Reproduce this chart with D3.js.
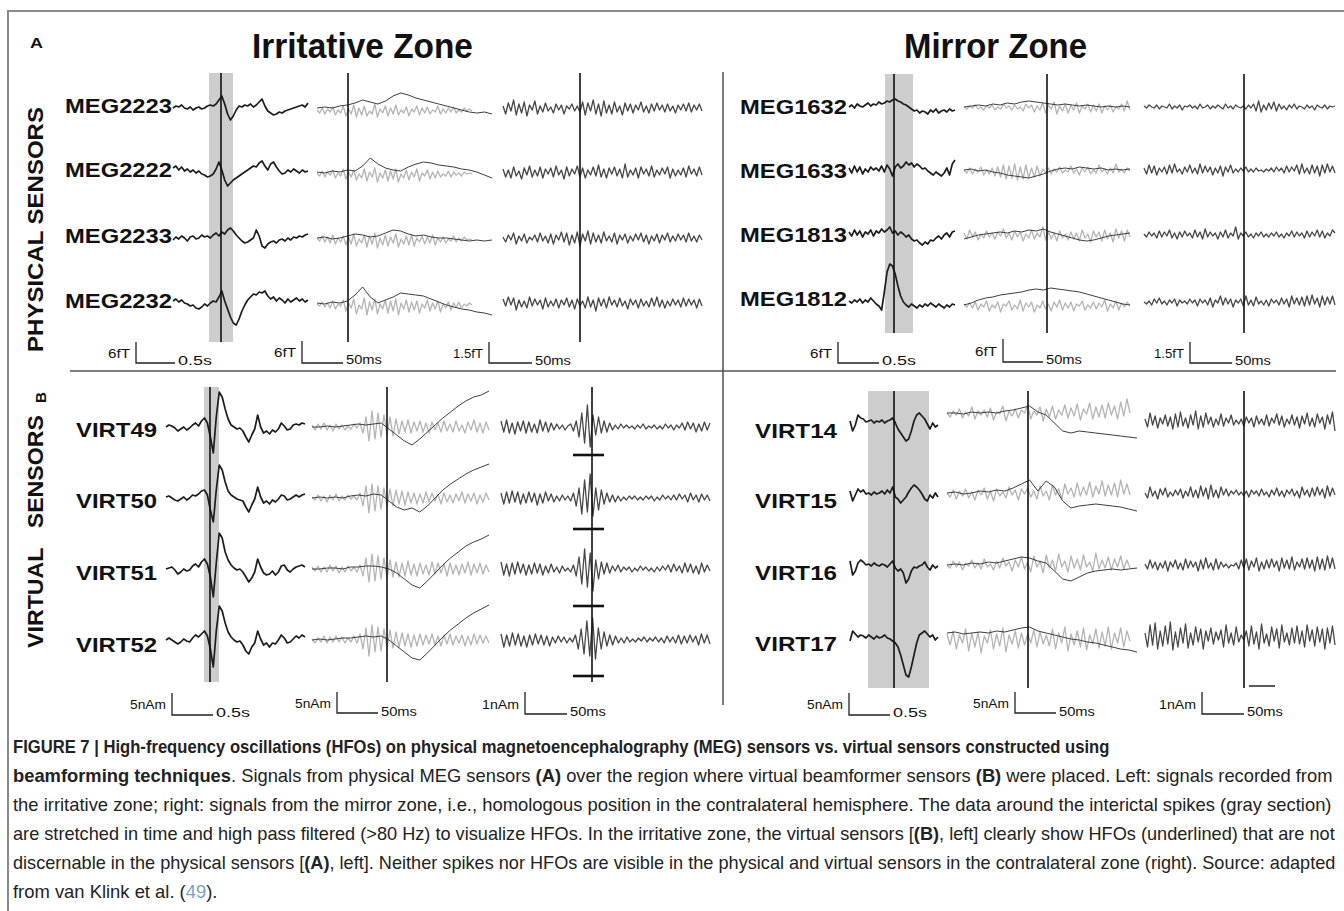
<!DOCTYPE html>
<html>
<head>
<meta charset="utf-8">
<script src="https://cdn.jsdelivr.net/npm/d3@7"></script>
<style>
  body { margin: 0; background: #fff; }
  svg { display: block; font-family: "Liberation Sans", Arial, sans-serif; }
</style>
</head>
<body>
<svg id="fig" width="1344" height="911"></svg>
<script>
// ---- sensor names ----
const sensorsPhysIrr = ['MEG2223', 'MEG2222', 'MEG2233', 'MEG2232'];
const sensorsPhysMir = ['MEG1632', 'MEG1633', 'MEG1813', 'MEG1812'];
const sensorsVirtIrr = ['VIRT49', 'VIRT50', 'VIRT51', 'VIRT52'];
const sensorsVirtMir = ['VIRT14', 'VIRT15', 'VIRT16', 'VIRT17'];

// ---- scale bar labels ----
const scaleAmpPhys = ['6fT', '6fT', '1.5fT'];
const scaleAmpVirt = ['5nAm', '5nAm', '1nAm'];
const scaleTime = ['0.5s', '50ms', '50ms'];

// ---- physical sensors, irritative zone (px units, up = +) ----
const physIrrRaw = [
  [0,2,1,3,0,-1,1,-2,0,1,-1,0,2,3,2,4,8,12,4,-6,-12,-8,-2,2,1,3,2,4,1,3,6,9,2,-3,-5,-7,-6,-4,-5,-3,-2,-1,0,1,2,3,1,5],
  [4,6,2,5,1,3,0,2,-1,1,-2,-3,-5,-4,-2,3,10,2,-8,-14,-11,-8,-6,-4,-2,0,2,4,6,5,9,11,6,2,8,10,5,1,-2,-1,2,0,3,1,-1,2,0,1],
  [-2,1,-1,2,0,-3,1,2,-1,0,3,1,2,0,3,5,2,6,4,8,10,7,3,0,-3,-5,-4,-2,0,8,2,-8,-10,-6,-4,-3,-5,-2,-1,-3,0,-2,1,0,2,1,3,4],
  [2,4,1,3,0,-1,-3,-2,-5,-6,-4,-1,-3,0,2,1,6,12,2,-6,-14,-20,-22,-16,-8,-2,3,6,9,8,11,10,12,7,4,6,2,5,3,0,4,1,3,5,2,4,1,3]
];
const physIrrSlow = [
  [0,1,0,2,3,5,8,6,4,7,12,15,13,10,8,6,4,2,0,-2,-4,-5,-4,-6],
  [0,-1,1,0,2,1,6,14,8,4,2,1,5,8,10,9,7,6,5,3,2,0,-3,-6],
  [0,1,-1,0,2,4,3,1,2,5,8,7,4,2,3,1,0,0,-1,-2,-3,-2,-3,-2],
  [0,-1,1,0,2,8,16,6,0,3,6,10,9,8,7,4,1,-2,-4,-6,-7,-9,-10,-12]
];
const physIrrHf = [
  [-2,-5,0,-6,-1,-4,1,-7,-2,-5,2,-8,-1,-6,3,-9,0,-7,2,-8,-3,-6,4,-9,-1,-5,2,-8,0,-6,3,-7,-2,-5,1,-8,-1,-4,2,-7,0,-5,1,-6,-2,-4,2,-6,-1,-5,0,-4,1,-5,-2,-4,0,-3,-1,-3],
  [-1,-4,1,-5,0,-3,2,-6,-1,-4,3,-7,0,-5,2,-8,-2,-6,3,-9,0,-5,4,-10,-1,-6,2,-9,1,-7,3,-10,-2,-6,2,-8,0,-5,3,-9,-1,-4,2,-7,0,-6,1,-5,-2,-4,1,-5,0,-3,-1,-4,0,-2,-1,-2],
  [0,-3,2,-4,1,-5,3,-6,0,-4,2,-7,1,-6,4,-8,-1,-5,3,-9,2,-6,5,-10,0,-7,3,-8,1,-5,4,-9,-1,-6,2,-7,3,-8,0,-4,2,-6,1,-5,3,-7,0,-4,1,-5,-1,-3,2,-4,0,-3,1,-2,-1,-2],
  [-1,-3,1,-4,0,-5,2,-6,-1,-3,3,-8,0,-5,4,-11,-2,-6,5,-12,1,-7,4,-11,-1,-6,3,-10,2,-8,4,-12,0,-6,3,-9,1,-7,2,-10,-1,-5,3,-8,0,-6,2,-9,-1,-5,1,-7,0,-4,1,-5,-1,-3,0,-2]
];
const physIrrFilt = [
  [2,-6,5,-3,8,-7,4,-5,6,-8,3,-2,7,-6,2,-4,5,-3,1,-5,4,-2,3,-6,2,-1,4,-3,2,-4,6,-7,5,-3,8,-6,4,-8,7,-5,3,-6,6,-4,2,-7,5,-3,4,-5,3,-2,6,-4,2,-5,4,-3,5,-2,3,-4,4,-3,2,-5,3,-2,4,-3,5,-4,3,-2,4,-3],
  [3,-5,2,-6,5,-4,1,-7,4,-3,6,-5,2,-4,5,-6,3,-2,4,-5,6,-3,2,-7,5,-4,3,-2,6,-5,4,-6,2,-3,5,-4,7,-5,3,-6,4,-2,5,-4,3,-6,8,-5,2,-3,4,-6,5,-2,3,-4,6,-5,2,-3,4,-2,5,-6,3,-4,2,-3,4,-5,6,-2,3,-4,5,-3],
  [1,-4,3,-2,5,-6,2,-3,4,-5,1,-2,3,-4,5,-3,2,-5,4,-6,3,-2,6,-4,5,-7,3,-5,6,-8,4,-3,7,-6,5,-4,3,-5,6,-3,2,-4,5,-6,3,-2,4,-5,2,-3,4,-2,5,-4,3,-6,2,-3,4,-5,3,-2,5,-4,2,-3,4,-2,3,-4,5,-3,2,-4,3,-2],
  [4,-3,6,-2,5,-7,3,-4,2,-5,6,-3,4,-2,3,-6,5,-4,2,-3,4,-5,3,-2,5,-4,3,-6,4,-3,2,-5,6,-4,3,-8,5,-3,4,-5,6,-2,3,-4,5,-3,2,-6,4,-2,3,-5,4,-3,2,-4,5,-3,6,-4,3,-5,2,-3,4,-2,3,-4,5,-3,4,-2,3,-5,4,-3]
];

// ---- physical sensors, mirror zone ----
const physMirRaw = [
  [0,2,-1,3,1,0,2,4,1,3,2,5,3,4,6,5,7,8,6,5,3,2,0,-2,-4,-3,-6,-4,-5,-7,-3,-5,-2,-6,-4,-3,-5,-2,-4,-3],
  [2,-3,4,-2,3,-4,1,-2,3,0,2,-1,4,-2,5,1,-6,3,6,2,4,8,5,7,3,6,4,1,2,-1,-3,-5,-2,-4,-6,-3,2,-5,6,10],
  [3,-1,5,0,4,-2,3,1,5,-1,4,2,6,3,5,8,2,4,0,3,1,-2,0,-4,-6,-5,-8,-10,-7,-9,-5,-6,-3,-1,-4,0,2,-2,3,4],
  [1,-1,2,0,3,-1,2,0,4,1,-2,-4,-8,10,30,38,36,28,16,6,0,-3,-5,-2,-4,-6,-3,-5,-2,-4,-1,-3,-5,-2,-4,-6,-3,-5,-2,-3]
];
const physMirSlow = [
  [0,1,2,1,3,2,4,3,5,6,5,4,3,2,3,2,1,2,1,0,1,0,1,0],
  [0,1,-1,0,-2,-3,-5,-6,-7,-8,-6,-4,-1,1,2,1,3,2,1,2,0,1,0,1],
  [-4,-2,0,1,2,3,2,4,3,5,4,6,3,1,-1,-3,-5,-6,-5,-3,-1,0,1,2],
  [-3,-1,2,4,5,7,8,9,10,12,13,12,14,13,12,11,10,8,6,4,2,0,-2,-3]
];
const physMirHf = [
  [0,-2,1,-1,2,-2,0,-3,1,-1,2,-3,0,-2,3,-1,1,-3,2,-2,0,-4,3,-1,2,-5,1,-3,4,-6,2,-2,5,-7,1,-4,3,-6,2,-3,4,-6,1,-2,3,-5,2,-4,3,-6,1,-3,2,-5,0,-2,3,-4,6,-3],
  [0,-3,2,-4,1,-2,3,-5,0,-4,2,-6,3,-7,5,-9,4,-8,6,-10,3,-9,5,-8,2,-7,4,-6,1,-3,2,-4,1,-2,3,-3,0,-2,4,-3,1,-5,2,-2,3,-4,0,-3,5,-2,1,-4,2,-3,6,-2,1,-3,2,-1],
  [2,-4,5,-2,3,-5,1,-3,4,-2,2,-4,3,-1,6,-3,2,-5,4,-2,3,-6,1,-3,5,-4,2,-2,8,-5,3,-4,2,-6,4,-3,1,-5,3,-4,2,-6,5,-3,1,-7,4,-2,3,-6,5,-4,2,-7,6,-3,4,-6,5,-2],
  [-2,-5,-1,-6,0,-8,-2,-5,1,-9,-3,-6,0,-10,-2,-4,1,-8,-3,-7,2,-9,-1,-5,0,-10,-3,-6,1,-7,-2,-9,0,-5,2,-8,-1,-6,0,-9,-2,-4,1,-8,-3,-6,0,-7,-1,-5,2,-9,-2,-6,1,-8,-1,-5,0,-4]
];
const physMirFilt = [
  [1,-1,2,0,-1,2,-2,1,0,-1,3,-2,1,-1,2,-3,1,0,2,-1,1,-2,3,-1,0,2,-2,1,-1,2,0,-2,3,-1,1,-2,2,0,-1,1,-2,2,-1,3,-4,6,-5,2,-3,4,-2,5,-4,3,-2,1,-3,2,-1,3,-2,1,0,-2,2,-1,1,-3,2,0,-1,2,-2,1,0,1],
  [2,-4,5,-3,4,-5,2,-2,3,-4,5,-3,6,-2,1,-4,3,-2,5,-3,2,-4,6,-3,4,-2,3,-5,2,-3,4,-6,3,-2,5,-3,1,-2,2,-1,3,-2,1,-2,2,-1,0,-2,1,-1,2,-2,3,-1,2,-3,4,-2,3,-1,5,-4,6,-3,2,-4,5,-3,4,-6,5,-3,6,-2,4,-3],
  [1,-2,3,-1,2,-3,4,-2,3,-1,5,-3,2,-4,3,-2,4,-1,2,-3,5,-2,3,-4,6,-2,3,-1,2,-4,3,-2,5,-3,2,-1,8,-4,2,-1,3,-2,1,-3,2,-1,3,-2,1,-2,2,-1,3,-2,1,-3,2,-1,4,-2,3,-1,2,-3,4,-2,3,-1,5,-2,4,-3,2,-1,5,2],
  [0,-2,1,-3,3,-1,4,-2,1,-3,2,-1,3,-4,2,-1,1,-2,3,-1,2,-4,3,-1,2,-3,4,-5,2,-1,6,-3,4,-2,3,-5,2,-1,3,-4,6,-3,2,-4,5,-2,1,-3,2,-4,3,-1,2,-3,4,-2,3,-5,6,-2,4,-3,5,-4,6,-3,7,-2,4,-5,6,-3,5,-2,6,-3]
];

// ---- virtual sensors, irritative zone ----
const virtIrrRaw = [
  [0,2,1,-1,-4,-2,0,-3,-1,2,4,1,6,9,4,-10,-26,10,35,30,18,8,2,0,-2,-1,-4,-10,-15,-8,-2,12,0,-6,-4,-7,-3,-5,-2,4,1,-3,-2,2,3,2,4,3],
  [1,2,0,-2,-3,-1,1,-2,0,3,2,4,7,8,3,-12,-24,8,33,28,16,7,3,1,-1,-2,-3,-9,-14,-7,-1,11,1,-5,-3,-6,-2,-4,-1,3,2,-2,-1,1,3,1,3,4],
  [0,1,2,-1,-5,-3,0,-2,-1,3,5,2,7,10,5,-8,-28,6,36,31,17,9,4,1,-1,0,-3,-8,-13,-9,-3,10,2,-4,-6,-5,-2,-6,-3,3,4,-1,-3,0,2,3,4,2],
  [0,2,0,-2,-4,-2,1,-1,-2,2,5,3,6,9,4,-9,-27,9,34,29,17,8,3,0,-2,-1,-5,-11,-14,-7,-3,9,1,-5,-3,-7,-3,-4,0,5,2,-3,-2,1,4,2,5,3]
];
const virtIrrSlow = [
  [0,0,1,0,1,2,3,2,3,4,-2,-8,-14,-18,-12,-5,2,9,15,21,26,30,32,36],
  [0,1,0,1,0,2,3,2,4,3,-3,-9,-12,-10,-14,-8,0,8,14,19,24,28,31,34],
  [0,0,1,1,0,2,2,3,3,2,0,-4,-10,-16,-19,-12,-4,4,11,17,23,27,30,34],
  [0,1,0,1,2,2,3,4,3,4,0,-6,-12,-18,-20,-13,-5,3,10,16,22,27,31,35]
];
const virtIrrHf = [
  [2,-3,3,-2,4,-3,2,-4,3,-2,2,-3,1,-2,3,-1,4,-6,10,-14,16,-12,14,-10,12,-8,10,-9,8,-7,6,-5,7,-6,5,-4,6,-5,4,-6,5,-3,4,-5,6,-4,3,-5,6,-4,2,-6,5,-3,7,-5,4,-6,5,-3],
  [1,-2,3,-3,2,-4,3,-2,4,-3,2,-2,3,-1,2,-2,5,-8,12,-15,14,-13,12,-11,10,-9,9,-8,8,-6,7,-7,6,-5,5,-6,4,-5,6,-4,5,-3,4,-6,5,-4,3,-5,4,-3,6,-5,4,-3,5,-6,3,-4,5,-2],
  [2,-2,3,-3,2,-3,4,-2,3,-4,2,-3,3,-2,2,-3,4,-7,11,-13,15,-12,13,-10,11,-9,9,-8,7,-8,6,-7,8,-6,5,-7,6,-5,4,-6,7,-5,6,-4,5,-7,6,-5,4,-6,5,-4,7,-6,5,-4,6,-5,4,-3],
  [1,-3,2,-2,4,-3,3,-2,4,-2,3,-3,2,-2,4,-3,6,-9,12,-16,15,-12,13,-11,11,-9,10,-8,8,-7,7,-6,6,-7,5,-6,6,-5,5,-4,6,-5,4,-6,5,-4,6,-5,4,-3,5,-6,4,-5,6,-4,5,-3,4,-3]
];
const virtIrrFilt = [
  [6,-5,7,-6,4,-7,5,-4,6,-6,5,-5,3,-6,7,-4,5,-5,4,-3,3,-2,2,-3,1,3,-4,6,-10,14,-16,22,-20,12,-8,10,-6,6,-5,4,-3,2,-2,3,-1,2,-1,1,-2,2,-1,3,-2,1,-1,2,-2,1,-2,3,-1,2,-3,2,-1,4,-3,5,-2,4,-5,3,-4,5,-3,4],
  [5,-6,6,-5,7,-4,6,-6,4,-5,6,-4,5,-7,4,-5,6,-3,4,-4,2,-3,3,-2,2,-3,5,-8,10,-16,18,-14,24,-18,10,-12,8,-6,5,-4,3,-4,2,-3,1,-2,2,-1,2,-2,1,-2,2,-1,2,-3,1,-2,3,-1,2,-2,3,-2,4,-1,3,-4,5,-2,3,-4,4,-2,3,-3],
  [7,-6,5,-7,6,-5,7,-4,5,-6,4,-5,6,-4,5,-6,3,-4,5,-3,2,-4,3,-2,1,-3,4,-7,12,-15,20,-18,16,-22,9,-10,7,-5,6,-4,3,-2,4,-3,2,-1,2,-3,1,-2,3,-1,2,-2,1,-3,2,-2,3,-1,4,-3,5,-2,3,-4,6,-3,5,-4,3,-5,6,-3,4,-2],
  [6,-7,5,-6,7,-5,6,-6,4,-7,5,-5,6,-4,5,-5,4,-6,3,-3,4,-2,3,-3,2,-2,5,-9,11,-14,19,-16,22,-19,12,-9,8,-6,5,-5,4,-3,2,-3,3,-2,1,-2,2,-1,3,-2,2,-1,3,-2,2,-3,4,-2,3,-3,5,-4,4,-3,5,-2,4,-5,6,-3,5,-4]
];

// ---- virtual sensors, mirror zone ----
const virtMirRaw = [
  [0,-10,-4,6,3,2,-1,0,1,-2,0,-1,1,-2,0,1,3,-2,-8,-12,-16,-20,-18,-10,0,6,8,5,2,-3,-8,-2,-6,-4],
  [2,-8,-2,4,1,3,-1,0,-2,1,-1,0,2,-1,3,0,6,-4,-6,-10,-7,-4,1,5,8,6,3,-1,-6,-8,-2,-5,0,-4],
  [4,-10,-6,2,5,3,0,1,-1,2,0,-1,1,0,-2,1,4,-3,-6,-4,-8,-18,-14,-6,-2,-3,-1,0,3,-2,-5,0,-3,-1],
  [-4,6,3,0,2,1,-1,2,0,-2,1,-1,0,2,-1,-2,-4,-6,-10,-18,-28,-38,-40,-30,-18,-6,2,4,6,3,0,2,-3,0]
];
const virtMirSlow = [
  [8,8,7,9,8,9,8,10,11,13,15,9,6,-2,-10,-12,-10,-11,-12,-13,-14,-15,-16,-17],
  [0,1,-1,0,2,1,3,2,5,9,13,2,12,6,-8,-15,-13,-12,-11,-12,-13,-14,-16,-18],
  [0,1,0,2,1,3,2,4,6,8,7,4,2,-6,-14,-16,-12,-8,-6,-5,-4,-5,-4,-3],
  [4,5,3,4,5,4,6,5,7,9,10,6,4,2,0,-2,-3,-5,-6,-8,-10,-12,-13,-15]
];
const virtMirHf = [
  [8,4,10,6,12,3,9,5,14,2,10,6,11,4,13,1,9,7,15,0,10,5,12,3,11,8,16,2,10,6,14,0,12,4,15,2,11,6,16,3,13,5,17,1,12,7,18,2,14,4,16,3,18,6,15,2,19,5,22,8],
  [0,-4,3,-6,2,-3,4,-5,1,-7,3,-2,5,-6,2,-8,4,-3,1,-5,6,-2,3,-7,4,-1,5,-4,2,-6,7,-3,2,-7,8,-2,4,-6,9,-1,5,-4,10,-3,6,-2,11,-4,7,-1,12,-3,8,-2,10,-4,13,-1,9,-2],
  [0,-3,4,-2,3,-5,2,-1,5,-3,2,-4,6,-2,1,-5,4,-3,7,-1,3,-6,5,-2,8,-4,3,-7,9,-2,4,-8,10,-3,5,-6,11,-2,4,-7,9,-3,6,-5,10,-2,3,-6,12,-4,5,-3,8,-5,6,-2,9,-4,5,-3],
  [3,-8,6,-12,2,-6,8,-14,4,-10,5,-16,1,-6,7,-12,3,-9,9,-15,2,-7,6,-11,4,-8,3,-6,7,-10,5,-7,2,-9,8,-12,4,-6,10,-14,3,-8,6,-10,9,-13,2,-7,8,-11,5,-9,10,-12,4,-6,9,-10,6,-4]
];
const virtMirFilt = [
  [2,-6,8,-4,5,-7,3,-3,6,-5,4,-8,7,-6,9,-5,3,-7,6,-4,10,-8,5,-6,8,-3,4,-6,2,-4,7,-5,3,-2,6,-4,1,-3,2,-5,4,-2,3,-6,5,-3,2,-4,6,-5,3,-2,7,-4,5,-6,2,-3,6,-4,4,-7,5,-3,8,-5,3,-6,7,-2,4,-8,6,-3,9,-10],
  [0,-5,6,-3,2,-6,4,-2,5,-4,1,-3,3,-2,4,-5,2,-3,6,-4,3,-5,7,-3,5,-6,8,-4,3,-5,6,-2,4,-3,2,-1,3,-2,1,-3,2,-4,3,-1,2,-3,4,-2,1,-4,3,-2,5,-3,2,-4,3,-1,4,-3,2,-5,6,-2,3,-4,5,-3,6,-2,4,-5,7,-3,5,-2],
  [1,-4,5,-3,3,-5,2,-3,4,-6,3,-2,5,-4,2,-5,6,-3,4,-2,3,-6,5,-4,7,-3,2,-5,6,-4,3,-2,1,-3,0,-1,2,-4,5,-3,6,-5,4,-2,7,-6,3,-4,5,-3,6,-2,4,-6,7,-3,5,-4,8,-5,3,-2,6,-4,7,-3,5,-6,8,-4,6,-5,9,-3,7,-4],
  [4,-10,12,-8,14,-12,6,-9,11,-7,15,-13,5,-10,9,-6,13,-11,4,-8,10,-5,8,-12,6,-4,9,-7,5,-3,7,-10,12,-6,4,-8,10,-5,2,-3,6,-9,11,-7,5,-12,13,-6,3,-9,10,-4,8,-11,12,-5,4,-8,9,-6,11,-7,6,-10,12,-4,7,-9,10,-5,8,-12,9,-6,11,-8]
];

// ---- caption ----
const captionLines = [
  [['FIGURE 7 | High-frequency oscillations (HFOs) on physical magnetoencephalography (MEG) sensors vs. virtual sensors constructed using', 'b']],
  [['beamforming techniques', 'b'], ['. Signals from physical MEG sensors '], ['(A)', 'b'], [' over the region where virtual beamformer sensors '], ['(B)', 'b'], [' were placed. Left: signals recorded from']],
  [['the irritative zone; right: signals from the mirror zone, i.e., homologous position in the contralateral hemisphere. The data around the interictal spikes (gray section)']],
  [['are stretched in time and high pass filtered (>80 Hz) to visualize HFOs. In the irritative zone, the virtual sensors ['], ['(B)', 'b'], [', left] clearly show HFOs (underlined) that are not']],
  [['discernable in the physical sensors ['], ['(A)', 'b'], [', left]. Neither spikes nor HFOs are visible in the physical and virtual sensors in the contralateral zone (right). Source: adapted']],
  [['from van Klink et al. ('], ['49', 'l'], [').']]
];

const svg = d3.select('#fig');

// text helper: draws a string and stretches it to a measured width
function fitText(parent, str, x, y, width, size, weight, anchor, rotate) {
  const t = parent.append('text')
    .attr('font-size', size)
    .attr('font-weight', weight)
    .attr('text-anchor', anchor)
    .attr('fill', '#111')
    .text(str);
  const w = t.node().getComputedTextLength();
  const k = width ? width / w : 1;
  t.attr('transform', `translate(${x},${y})${rotate ? ' rotate(-90)' : ''} scale(${k},1)`);
  return t;
}

// one trace through its own scales
function drawTrace(g, values, x0, x1, cy, color, width) {
  const x = d3.scaleLinear().domain([0, values.length - 1]).range([x0, x1]);
  const y = d3.scaleLinear().domain([-1, 1]).range([cy + 1, cy - 1]);
  g.append('path')
    .datum(values)
    .attr('d', d3.line().x((d, i) => x(i)).y(d => y(d)))
    .attr('fill', 'none')
    .attr('stroke', color)
    .attr('stroke-width', width)
    .attr('stroke-linejoin', 'round');
}

// frame + dividers
svg.append('path').attr('d', 'M8,911 V11 H1344')
  .attr('fill', 'none').attr('stroke', '#8a8a8a').attr('stroke-width', 2);
svg.append('line').attr('x1', 70).attr('x2', 1336).attr('y1', 371).attr('y2', 371)
  .attr('stroke', '#555').attr('stroke-width', 1.6);
svg.append('line').attr('x1', 723).attr('x2', 723).attr('y1', 72).attr('y2', 705)
  .attr('stroke', '#444').attr('stroke-width', 1.4);

// titles and side labels
fitText(svg, 'A', 30, 48, 13, 15, 'bold', 'start');
fitText(svg, 'Irritative Zone', 362.5, 58, 221, 35, 'bold', 'middle');
fitText(svg, 'Mirror Zone', 995.5, 58, 183, 35, 'bold', 'middle');
fitText(svg, 'PHYSICAL SENSORS', 43, 229.5, 245, 22, 'bold', 'middle', true);
fitText(svg, 'VIRTUAL\u00a0\u00a0\u00a0SENSORS', 43, 531.5, 233, 22, 'bold', 'middle', true);
fitText(svg, 'B', 46, 403, 11, 15, 'bold', 'start', true);

const ampWidth = { '6fT': 22, '1.5fT': 30, '5nAm': 36, '1nAm': 37 };
const timeWidth = { '0.5s': 34, '50ms': 36 };

const panels = [
  { names: sensorsPhysIrr, raw: physIrrRaw, slow: physIrrSlow, hf: physIrrHf, filt: physIrrFilt,
    rowY: [108, 172, 238, 303], labelY: [113, 177, 243, 308], labelRight: 172, labelW: 107, labelSize: 20,
    c1: [173, 308], c2: [317, 492], hfEnd: 472, c3: [503, 702],
    band: [209, 233], top: 73, bottom: 342, marks: [221, 348, 580],
    amp: scaleAmpPhys,
    bars: [{ x: 136, y0: 342, y1: 363, len: 39, ab: 358, tb: 365 },
           { x: 302, y0: 341, y1: 363, len: 41, ab: 357, tb: 364 },
           { x: 489, y0: 342, y1: 363, len: 43, ab: 358, tb: 365 }] },
  { names: sensorsPhysMir, raw: physMirRaw, slow: physMirSlow, hf: physMirHf, filt: physMirFilt,
    rowY: [107, 170, 235, 302], labelY: [114, 178, 242, 306], labelRight: 847, labelW: 107, labelSize: 20,
    c1: [849, 955], c2: [964, 1130], hfEnd: 1130, c3: [1144, 1335],
    band: [885, 913], top: 74, bottom: 333, marks: [894, 1047, 1244],
    amp: scaleAmpPhys,
    bars: [{ x: 838, y0: 342, y1: 363, len: 41, ab: 358, tb: 365 },
           { x: 1003, y0: 339, y1: 362, len: 40, ab: 356, tb: 364 },
           { x: 1190, y0: 342, y1: 363, len: 42, ab: 358, tb: 365 }] },
  { names: sensorsVirtIrr, raw: virtIrrRaw, slow: virtIrrSlow, hf: virtIrrHf, filt: virtIrrFilt,
    rowY: [427, 498, 569, 640], labelY: [437, 508, 580, 652], labelRight: 157, labelW: 81, labelSize: 21,
    c1: [166, 305], c2: [312, 489], hfEnd: 489, c3: [501, 710],
    band: [204, 219], top: 387, bottom: 682, marks: [210, 387, 592],
    amp: scaleAmpVirt, underline: [28, 31, 37, 36],
    bars: [{ x: 172, y0: 693, y1: 715, len: 41, ab: 709, tb: 717 },
           { x: 337, y0: 692, y1: 713, len: 41, ab: 708, tb: 716 },
           { x: 525, y0: 692, y1: 714, len: 42, ab: 709, tb: 716 }] },
  { names: sensorsVirtMir, raw: virtMirRaw, slow: virtMirSlow, hf: virtMirHf, filt: virtMirFilt,
    rowY: [421, 493, 565, 637], labelY: [438, 508, 580, 651], labelRight: 837, labelW: 82, labelSize: 21,
    c1: [850, 938], c2: [947, 1137], hfEnd: 1130, c3: [1145, 1335],
    band: [868, 929], top: 391, bottom: 688, marks: [894, 1028, 1244],
    amp: scaleAmpVirt,
    bars: [{ x: 849, y0: 693, y1: 715, len: 41, ab: 709, tb: 717 },
           { x: 1015, y0: 692, y1: 713, len: 41, ab: 708, tb: 716 },
           { x: 1202, y0: 692, y1: 714, len: 42, ab: 709, tb: 716 }] }
];

panels.forEach(p => {
  const g = svg.append('g');

  // gray spike section
  g.append('rect')
    .attr('x', p.band[0]).attr('y', p.top)
    .attr('width', p.band[1] - p.band[0]).attr('height', p.bottom - p.top)
    .attr('fill', '#cdcdcd');

  p.names.forEach((name, r) => {
    const cy = p.rowY[r];
    drawTrace(g, p.hf[r], p.c2[0], p.hfEnd, cy, '#b4b4b4', 1.3);
    drawTrace(g, p.slow[r], p.c2[0], p.c2[1], cy, '#3d3d3d', 1);
    drawTrace(g, p.raw[r], p.c1[0], p.c1[1], cy, '#1c1c1c', 1.7);
    drawTrace(g, p.filt[r], p.c3[0], p.c3[1], cy, '#474747', 1.3);
    fitText(g, name, p.labelRight, p.labelY[r], p.labelW, p.labelSize, 'bold', 'end');
    if (p.underline) {
      g.append('line')
        .attr('x1', p.marks[2] - 19).attr('x2', p.marks[2] + 12)
        .attr('y1', cy + p.underline[r]).attr('y2', cy + p.underline[r])
        .attr('stroke', '#111').attr('stroke-width', 2.6);
    }
  });

  // event markers
  p.marks.forEach(mx => {
    g.append('line')
      .attr('x1', mx).attr('x2', mx).attr('y1', p.top).attr('y2', p.bottom)
      .attr('stroke', '#111').attr('stroke-width', 1.6);
  });

  // scale bars
  p.bars.forEach((b, i) => {
    g.append('path')
      .attr('d', `M${b.x},${b.y0} V${b.y1} H${b.x + b.len}`)
      .attr('fill', 'none').attr('stroke', '#222').attr('stroke-width', 1.3);
    fitText(g, p.amp[i], b.x - 6, b.ab, ampWidth[p.amp[i]], 13, 'normal', 'end');
    fitText(g, scaleTime[i], b.x + b.len + 3, b.tb, timeWidth[scaleTime[i]], 13, 'normal', 'start');
  });
});

// small stray mark under the last mirror column
svg.append('line').attr('x1', 1249).attr('x2', 1275).attr('y1', 686).attr('y2', 686)
  .attr('stroke', '#222').attr('stroke-width', 1.5);

// caption (narrow-looking text: larger size, squeezed to the line widths)
const capWidths = [1097, 1321, 1320, 1322, 1323, null];
const capBase = [753, 782, 811, 840, 869, 898];
let kNormal = 1;
captionLines.forEach((segs, i) => {
  const t = svg.append('text')
    .attr('font-size', 18)
    .attr('fill', '#222');
  segs.forEach(s => {
    t.append('tspan')
      .attr('font-weight', s[1] === 'b' ? 'bold' : 'normal')
      .attr('fill', s[1] === 'l' ? '#7f9fc8' : '#222')
      .text(s[0]);
  });
  const w = t.node().getComputedTextLength();
  const k = capWidths[i] ? capWidths[i] / w : kNormal;
  if (i === 2) kNormal = k;
  t.attr('transform', `translate(13,${capBase[i]}) scale(${k},1)`);
});
</script>
</body>
</html>
